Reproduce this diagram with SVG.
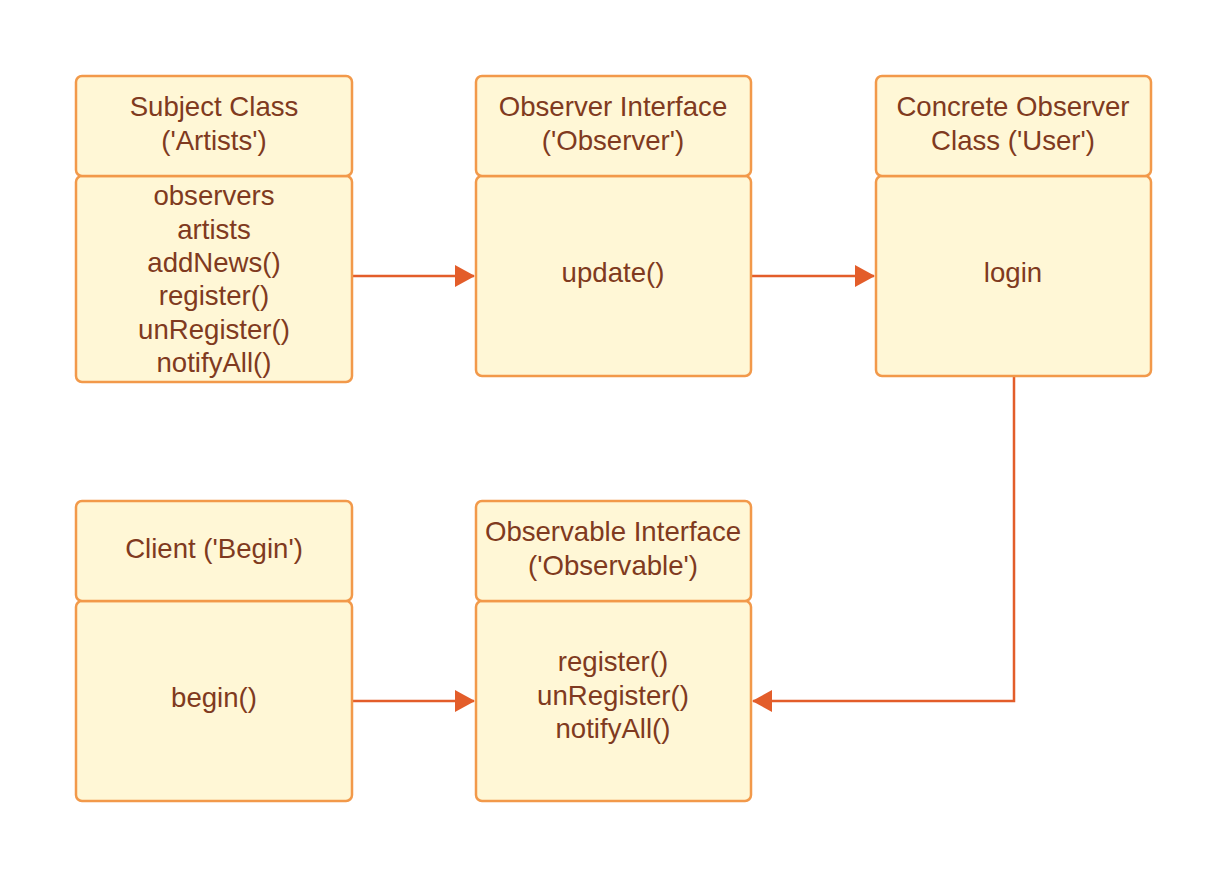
<svg xmlns="http://www.w3.org/2000/svg" width="1228" height="878" viewBox="0 0 1228 878">
<defs>
<marker id="arr" markerWidth="20" markerHeight="22" refX="19" refY="11" orient="auto" markerUnits="userSpaceOnUse">
<path d="M0,0 L20,11 L0,22 Z" fill="#E35D2A"/>
</marker>
<style>
.box{fill:#FFF7D6;stroke:#F2994A;stroke-width:2.5}
.t{font-family:"Liberation Sans",Arial,sans-serif;font-size:27.6px;fill:#7F3A20;text-anchor:middle}
.c{fill:none;stroke:#E35D2A;stroke-width:2.5}
</style>
</defs>
<rect width="1228" height="878" fill="#FFFFFF"/>
<g id="connectors">
<path class="c" d="M352,276 H474" marker-end="url(#arr)"/>
<path class="c" d="M751,276 H874" marker-end="url(#arr)"/>
<path class="c" d="M1014,376 V701 H753" marker-end="url(#arr)"/>
<path class="c" d="M352,701 H474" marker-end="url(#arr)"/>
</g>
<g id="subject">
<rect class="box" x="76" y="176" width="276" height="206" rx="6"/>
<rect class="box" x="76" y="76" width="276" height="100" rx="6"/>
<text class="t" x="214" y="116">Subject Class</text>
<text class="t" x="214" y="150">('Artists')</text>
<text class="t" x="214" y="205">observers</text>
<text class="t" x="214" y="239">artists</text>
<text class="t" x="214" y="272">addNews()</text>
<text class="t" x="214" y="305">register()</text>
<text class="t" x="214" y="339">unRegister()</text>
<text class="t" x="214" y="372">notifyAll()</text>
</g>
<g id="observer">
<rect class="box" x="476" y="176" width="275" height="200" rx="6"/>
<rect class="box" x="476" y="76" width="275" height="100" rx="6"/>
<text class="t" x="613" y="116">Observer Interface</text>
<text class="t" x="613" y="150">('Observer')</text>
<text class="t" x="613" y="282">update()</text>
</g>
<g id="concrete">
<rect class="box" x="876" y="176" width="275" height="200" rx="6"/>
<rect class="box" x="876" y="76" width="275" height="100" rx="6"/>
<text class="t" x="1013" y="116">Concrete Observer</text>
<text class="t" x="1013" y="150">Class ('User')</text>
<text class="t" x="1013" y="282">login</text>
</g>
<g id="client">
<rect class="box" x="76" y="601" width="276" height="200" rx="6"/>
<rect class="box" x="76" y="501" width="276" height="100" rx="6"/>
<text class="t" x="214" y="558">Client ('Begin')</text>
<text class="t" x="214" y="707">begin()</text>
</g>
<g id="observable">
<rect class="box" x="476" y="601" width="275" height="200" rx="6"/>
<rect class="box" x="476" y="501" width="275" height="100" rx="6"/>
<text class="t" x="613" y="541">Observable Interface</text>
<text class="t" x="613" y="575">('Observable')</text>
<text class="t" x="613" y="671">register()</text>
<text class="t" x="613" y="705">unRegister()</text>
<text class="t" x="613" y="738">notifyAll()</text>
</g>
</svg>
